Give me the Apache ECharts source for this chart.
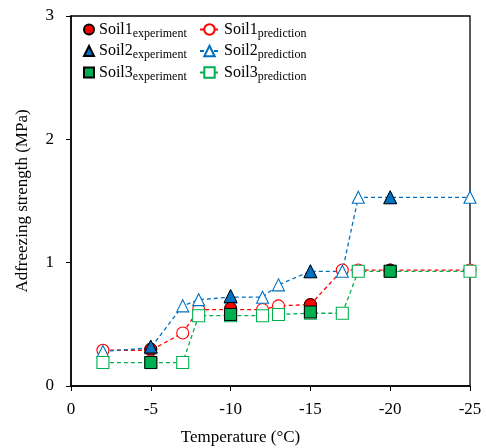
<!DOCTYPE html>
<html>
<head>
<meta charset="utf-8">
<script src="https://cdn.jsdelivr.net/npm/echarts@6/dist/echarts.min.js"></script>
<style>
  html, body { margin: 0; padding: 0; background: #fff; }
  #chart { width: 486px; height: 448px; }
</style>
</head>
<body>
<div id="chart"></div>
<script>
// temperatures (°C) for prediction curves and experiment points
var predTemp = [-2, -5, -7, -8, -10, -12, -13, -15, -17, -18, -20, -25];
var expTemp = [-5, -10, -15, -20];

// adfreezing strength (MPa)
var soil1Pred = [0.29, 0.29, 0.43, 0.62, 0.62, 0.62, 0.65, 0.66, 0.94, 0.94, 0.94, 0.94];
var soil2Pred = [0.28, 0.31, 0.65, 0.70, 0.72, 0.72, 0.82, 0.93, 0.93, 1.53, 1.53, 1.53];
var soil3Pred = [0.19, 0.19, 0.19, 0.57, 0.57, 0.57, 0.58, 0.59, 0.59, 0.93, 0.93, 0.93];
var soil1Exp = [0.30, 0.63, 0.66, 0.94];
var soil2Exp = [0.32, 0.73, 0.93, 1.53];
var soil3Exp = [0.19, 0.58, 0.60, 0.93];

var xTicks = [0, -5, -10, -15, -20, -25];
var yTicks = [0, 1, 2, 3];

var serif = 'Liberation Serif';
var red = '#ff0000', blue = '#0070c0', green = '#00b050';

function pairs(xs, ys) {
    return xs.map(function (x, i) { return [x, ys[i]]; });
}

function predSeries(name, ys, symbol, color) {
    return {
        name: name,
        type: 'line',
        data: pairs(predTemp, ys),
        symbol: symbol,
        symbolSize: 12,
        z: 2,
        lineStyle: { color: color, width: 1.3, type: [4, 3] },
        itemStyle: { color: '#fff', borderColor: color, borderWidth: 1.1 }
    };
}

function expSeries(name, ys, symbol, color, size) {
    return {
        name: name,
        type: 'scatter',
        data: pairs(expTemp, ys),
        symbol: symbol,
        symbolSize: size,
        z: 3,
        itemStyle: { color: color, borderColor: '#000', borderWidth: 1, opacity: 1 }
    };
}

// main name + subscript
var legendText = {
    rich: {
        a: { fontFamily: serif, fontSize: 16, color: '#000', lineHeight: 20, verticalAlign: 'middle' },
        b: { fontFamily: serif, fontSize: 12, color: '#000', lineHeight: 12, verticalAlign: 'bottom' }
    }
};

var chart = echarts.init(document.getElementById('chart'));

var option = {
    animation: false,
    grid: {
        left: 71, right: 16, top: 16, bottom: 62,
        outerBoundsMode: 'none',
        show: true, borderColor: '#000', borderWidth: 1.3
    },
    legend: [{
        data: ['Soil1experiment', 'Soil2experiment', 'Soil3experiment'],
        orient: 'vertical',
        left: 78, top: 16.5,
        itemWidth: 10, itemHeight: 10, itemGap: 3.5,
        formatter: function (n) { return '{a|' + n.slice(0, 5) + '}{b|experiment}'; },
        textStyle: legendText
    }, {
        data: ['Soil1prediction', 'Soil2prediction', 'Soil3prediction'],
        orient: 'vertical',
        left: 194, top: 16.5,
        itemWidth: 19, itemHeight: 13, itemGap: 3.5,
        formatter: function (n) { return '{a|' + n.slice(0, 5) + '}{b|prediction}'; },
        textStyle: legendText
    }],
    xAxis: {
        type: 'value',
        inverse: true,
        min: -25, max: 0, interval: 5,
        name: 'Temperature (°C)',
        nameLocation: 'middle',
        nameGap: 43,
        nameTextStyle: { fontFamily: serif, fontSize: 17, color: '#000', padding: [0, 60, 0, 0] },
        axisLine: { lineStyle: { color: '#000', width: 1.5 } },
        axisTick: { length: 5, lineStyle: { color: '#000' } },
        axisLabel: { fontFamily: serif, fontSize: 17, color: '#000', margin: 15 },
        splitLine: { show: false }
    },
    yAxis: {
        type: 'value',
        min: 0, max: 3, interval: 1,
        name: 'Adfreezing strength (MPa)',
        nameLocation: 'middle',
        nameGap: 40,
        nameTextStyle: { fontFamily: serif, fontSize: 17, color: '#000' },
        axisLine: { lineStyle: { color: '#000', width: 1.5 } },
        axisTick: { length: 5, lineStyle: { color: '#000' } },
        axisLabel: { fontFamily: serif, fontSize: 17, color: '#000', margin: 17 },
        splitLine: { show: false }
    },
    series: [
        predSeries('Soil1prediction', soil1Pred, 'circle', red),
        predSeries('Soil2prediction', soil2Pred, 'triangle', blue),
        predSeries('Soil3prediction', soil3Pred, 'rect', green),
        expSeries('Soil1experiment', soil1Exp, 'circle', red, 12),
        expSeries('Soil2experiment', soil2Exp, 'triangle', blue, 13),
        expSeries('Soil3experiment', soil3Exp, 'rect', green, 12)
    ]
};

chart.setOption(option);
</script>
</body>
</html>
